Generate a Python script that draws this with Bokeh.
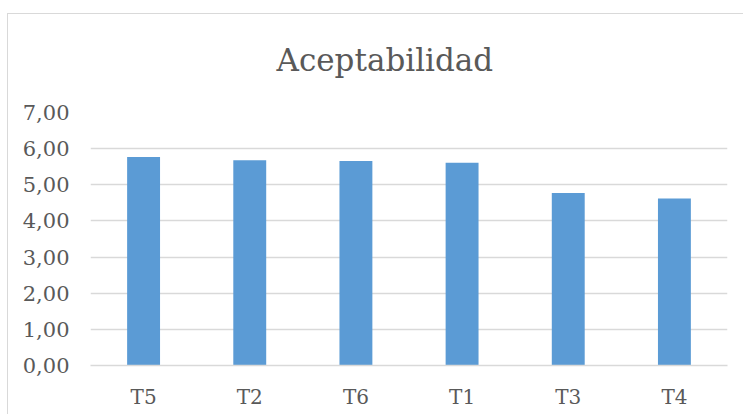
from bokeh.plotting import figure
from bokeh.models import Range1d, FixedTicker, Title
from bokeh.embed import file_html
from bokeh.resources import INLINE

categories = ["T5", "T2", "T6", "T1", "T3", "T4"]
values = [5.77, 5.68, 5.66, 5.61, 4.77, 4.62]
y_ticks = [0, 1, 2, 3, 4, 5, 6, 7]
y_tick_labels = ["0,00", "1,00", "2,00", "3,00", "4,00", "5,00", "6,00", "7,00"]
title_text = "Aceptabilidad"

FONT = "DejaVu Serif"
TXT = "#595959"
GRID = "#d9d9d9"

p = figure(
    x_range=categories,
    y_range=Range1d(0, 7),
    width=736, height=401,
    output_backend="svg", toolbar_location=None,
    min_border_left=82, min_border_right=17,
    min_border_top=98, min_border_bottom=50,
)
p.styles = {"margin-left": "7px", "margin-top": "13px",
            "border-left": "1px solid #d9d9d9", "border-top": "1px solid #d9d9d9"}

p.vbar(x=categories, top=values, width=0.31, color="#5b9bd5", line_color=None)

# spacer between the frame and the title
spacer = Title(text=" ", text_font_size="1px", standoff=32)
main_title = Title(text=title_text, align="left", offset=186, standoff=0,
                   text_font=FONT, text_font_size="31px", text_font_style="normal",
                   text_color=TXT)
p.add_layout(spacer, "above")
p.add_layout(main_title, "above")

p.outline_line_color = None
p.xgrid.grid_line_color = None
p.ygrid.grid_line_color = GRID
p.ygrid.grid_line_width = 1.5
p.ygrid.ticker = FixedTicker(ticks=y_ticks)

p.yaxis.ticker = FixedTicker(ticks=y_ticks)
p.yaxis.major_label_overrides = {t: l for t, l in zip(y_ticks, y_tick_labels)}
p.yaxis.axis_line_color = None
p.yaxis.major_tick_line_color = None
p.yaxis.minor_tick_line_color = None
p.yaxis.major_label_standoff = 15
p.yaxis.major_label_text_font = FONT
p.yaxis.major_label_text_font_size = "21px"
p.yaxis.major_label_text_color = TXT

p.xaxis.axis_line_color = GRID
p.xaxis.axis_line_width = 1.5
p.xaxis.major_tick_line_color = None
p.xaxis.minor_tick_line_color = None
p.xaxis.major_label_standoff = 13
p.xaxis.major_label_text_font = FONT
p.xaxis.major_label_text_font_size = "20px"
p.xaxis.major_label_text_color = TXT

p.x_range.range_padding = 0.0

open("out.html", "w").write(file_html(p, INLINE))
